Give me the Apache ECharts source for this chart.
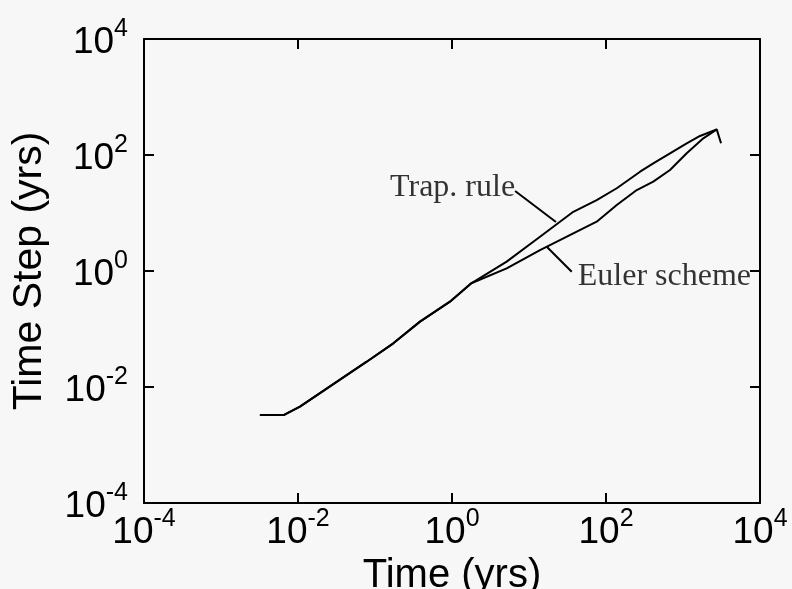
<!DOCTYPE html>
<html>
<head>
<meta charset="utf-8">
<script src="https://cdn.jsdelivr.net/npm/echarts@6/dist/echarts.min.js"></script>
<style>
  html, body { margin: 0; padding: 0; background: #f7f7f7; }
  #chart { width: 792px; height: 589px; }
</style>
</head>
<body>
<div id="chart"></div>
<script>
// Time-step history: both schemes share the early part of the run
const sharedTime = [0.0032, 0.0066, 0.0106, 0.078, 0.173, 0.384, 0.94, 1.78];
const sharedStep = [0.0033, 0.0033, 0.0046, 0.0273, 0.0566, 0.134, 0.296, 0.614];

// Trapezoidal rule branch
const trapTime = [5.13, 13.9, 37.6, 75.7, 138, 277, 411, 678, 1117, 1663, 2742, 3119];
const trapStep = [1.45, 3.90, 10.5, 16.7, 26.7, 51.5, 71.9, 107, 159, 213, 277, 159];

// Euler scheme branch
const eulerTime = [5.13, 13.9, 37.6, 75.7, 138, 251, 411, 678, 1117, 1837, 2742];
const eulerStep = [1.11, 2.30, 4.47, 7.08, 13.7, 24.9, 34.7, 55.1, 107, 194, 277];

// Leader lines for the two curve labels: [time, step] from label to curve
const trapPointer = [[6.6, 23.9], [22.4, 7.0]];
const eulerPointer = [[35.9, 0.97], [17.0, 2.62]];
const trapLabel = 'Trap. rule';
const eulerLabel = 'Euler scheme';

// Decade tick labels every two powers of ten
const axisMin = 1e-4;
const axisMax = 1e4;
const decadeStep = 2;

const zip = (xs, ys) => xs.map((x, i) => [x, ys[i]]);
const trapData = zip(sharedTime, sharedStep).concat(zip(trapTime, trapStep));
const eulerData = zip(sharedTime, sharedStep).concat(zip(eulerTime, eulerStep));

const sansFont = "'Liberation Sans', Arial, Helvetica, sans-serif";
const serifFont = "'Liberation Serif', 'Times New Roman', serif";

const powerRich = {
  b: { fontSize: 37, lineHeight: 44, verticalAlign: 'bottom', fontFamily: sansFont, color: '#000' },
  s: { fontSize: 25, lineHeight: 25, verticalAlign: 'top', fontFamily: sansFont, color: '#000' }
};
const powerFormatter = v => '{b|10}{s|' + Math.round(Math.log10(v)) + '}';

const frameLine = { show: true, lineStyle: { color: '#000', width: 2 } };
const innerTick = { show: true, inside: true, length: 10, lineStyle: { color: '#000', width: 2 } };

const logAxis = extra => Object.assign({
  type: 'log',
  logBase: 10,
  min: axisMin,
  max: axisMax,
  interval: decadeStep,
  axisLine: frameLine,
  axisTick: innerTick,
  minorTick: { show: false },
  splitLine: { show: false }
}, extra);

const chart = echarts.init(document.getElementById('chart'));
chart.setOption({
  animation: false,
  backgroundColor: '#f7f7f7',
  grid: { left: 144, right: 32, top: 39, bottom: 86, containLabel: false, outerBoundsMode: 'none' },
  xAxis: [
    logAxis({
      position: 'bottom',
      name: 'Time (yrs)',
      nameLocation: 'middle',
      nameGap: 44,
      nameTextStyle: { fontSize: 40, fontFamily: sansFont, color: '#000', verticalAlign: 'top', lineHeight: 40 },
      axisLabel: { show: true, margin: 4, formatter: powerFormatter, rich: powerRich }
    }),
    logAxis({ position: 'top', axisLabel: { show: false } })
  ],
  yAxis: [
    logAxis({
      position: 'left',
      name: 'Time Step (yrs)',
      nameLocation: 'middle',
      nameGap: 94,
      nameRotate: 90,
      nameTextStyle: { fontSize: 41, fontFamily: sansFont, color: '#000' },
      axisLabel: { show: true, margin: 16, formatter: powerFormatter, rich: powerRich }
    }),
    logAxis({ position: 'right', axisLabel: { show: false } })
  ],
  series: [
    {
      name: trapLabel, type: 'line', data: trapData, showSymbol: false,
      lineStyle: { color: '#000', width: 2 }, silent: true
    },
    {
      name: eulerLabel, type: 'line', data: eulerData, showSymbol: false,
      lineStyle: { color: '#000', width: 2 }, silent: true
    },
    {
      type: 'line', data: trapPointer, showSymbol: false,
      lineStyle: { color: '#000', width: 2 }, silent: true
    },
    {
      type: 'line', data: eulerPointer, showSymbol: false,
      lineStyle: { color: '#000', width: 2 }, silent: true
    },
    {
      type: 'scatter', symbolSize: 0, silent: true,
      data: [
        {
          value: trapPointer[0],
          label: { show: true, position: 'left', distance: 0, offset: [0, -3], formatter: trapLabel }
        },
        {
          value: eulerPointer[0],
          label: { show: true, position: 'right', distance: 6, offset: [0, 5], formatter: eulerLabel }
        }
      ],
      label: { fontSize: 32, fontFamily: serifFont, color: '#000' }
    }
  ]
});
</script>
</body>
</html>
